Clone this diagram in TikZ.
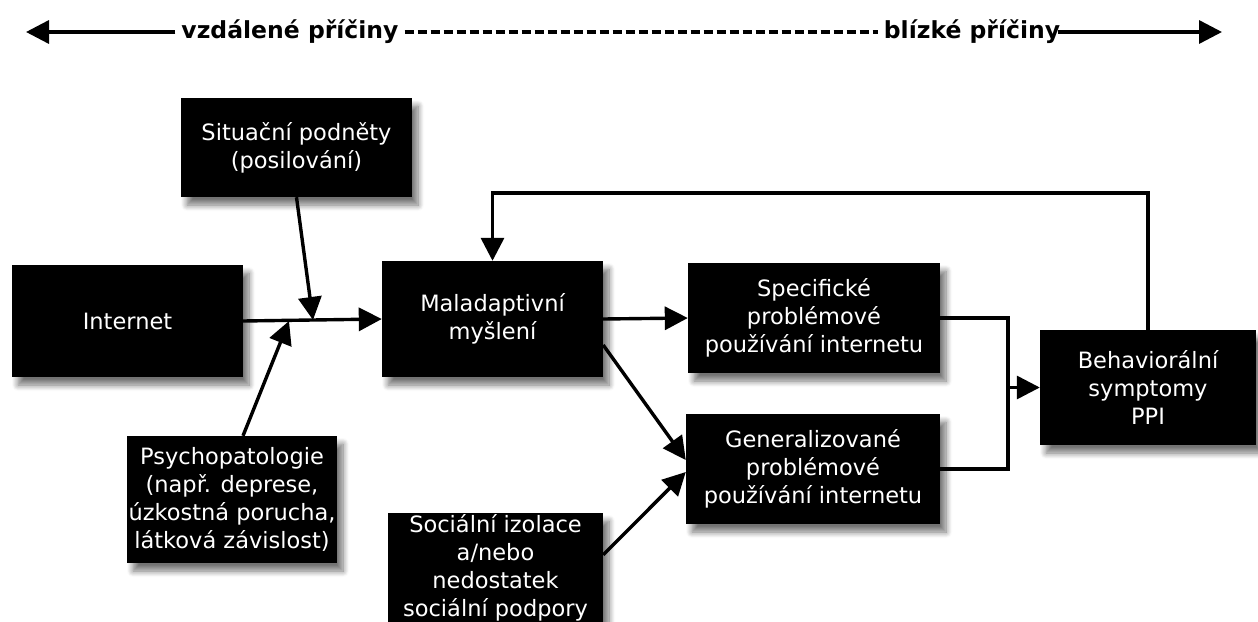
\documentclass[tikz,border=0pt]{standalone}
\usepackage{fontspec}
\setmainfont{DejaVu Sans}
\usetikzlibrary{arrows.meta,shadows.blur}
\tikzset{
  box/.style={fill=black, text=white, align=center, inner sep=1pt,
    font=\fontsize{22.5}{28}\selectfont,
    blur shadow={shadow xshift=6pt, shadow yshift=-8pt, shadow opacity=55, shadow blur steps=8, shadow blur radius=6pt}},
  link/.style={line width=3.4pt, -{Triangle[length=23pt,width=23pt]}},
  plain/.style={line width=3.4pt},
  head/.style={font=\fontsize{23.5}{27}\selectfont\bfseries, inner sep=6pt}
}
\begin{document}
\begin{tikzpicture}[x=1pt,y=-1pt]
      \useasboundingbox (0,0) rectangle (1258,621);
      % time axis
      \draw
        (290,32) node[head] (vzdal){vzdálené příčiny}
        (972,32) node[head] (blizke){blízké příčiny};
      \coordinate (levy) at (26,32);
      \coordinate (pravy) at (1222,32);
      \draw[plain, dash pattern=on 9pt off 4pt] (vzdal.east) -- (blizke.west);
      \draw[link] (vzdal.west) -- (levy);
      \draw[link] ([xshift=-8pt]blizke.east) -- (pravy);
      % boxes
      \node[box, minimum width=231pt, minimum height=99pt] (situace) at (296.5,147.5)
        {Situační podněty\\(posilování)};
      \node[box, minimum width=231pt, minimum height=112pt] (internet) at (127.5,321)
        {Internet};
      \node[box, minimum width=221pt, minimum height=116pt] (mysleni) at (492.5,319)
        {Maladaptivní\\myšlení};
      \node[box, minimum width=252pt, minimum height=110pt] (specif) at (814,318)
        {Specifické\\problémové\\používání internetu};
      \node[box, minimum width=254pt, minimum height=110pt] (general) at (813,469)
        {Generalizované\\problémové\\používání internetu};
      \node[box, minimum width=216pt, minimum height=115pt] (symptomy) at (1148,387.5)
        {Behaviorální\\symptomy\\PPI};
      \node[box, minimum width=210pt, minimum height=127pt] (psycho) at (232,499.5)
        {Psychopatologie\\(např. deprese,\\úzkostná porucha,\\látková závislost)};
      \node[box, minimum width=215pt, minimum height=110pt] (izolace) at (495.5,568)
        {Sociální izolace\\a/nebo\\nedostatek\\sociální podpory};
      % connectors
      \coordinate (spoj1) at (313,320);
      \coordinate (spoj2) at (289,321);
      \coordinate (merge) at (1008,387.5);
      \begin{scope}[link]
        \draw (internet.east) -- (mysleni.west);
        \draw (situace.south) -- (spoj1);
        \draw ([xshift=11pt]psycho.north) -- (spoj2);
        \draw (mysleni.east) -- (specif.west);
        \draw ([yshift=-26pt]mysleni.east) -- ([yshift=9pt]general.west);
        \draw ([yshift=-42pt]izolace.north east) -- ([yshift=-3pt]general.west);
        \draw (merge) -- (symptomy.west);
        \draw (symptomy.north) |- (mysleni.north |- 0,193) -- (mysleni.north);
      \end{scope}
      \draw[plain] (specif.east) -| (merge) |- (general.east);
    \end{tikzpicture}
\end{document}
